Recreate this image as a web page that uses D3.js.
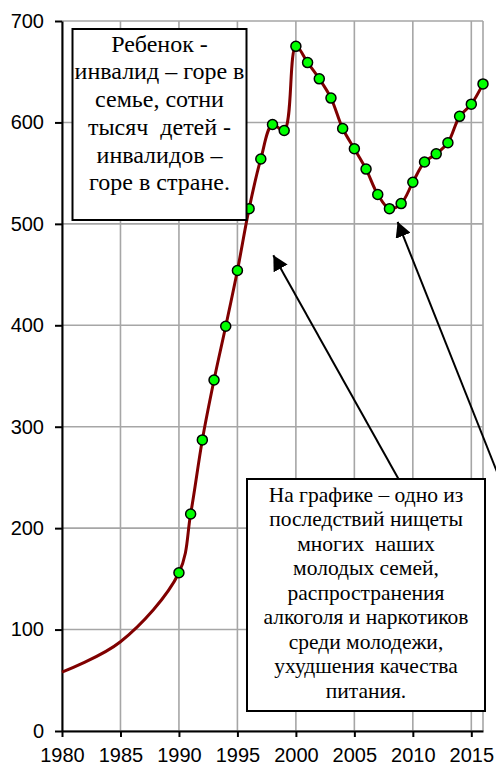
<!DOCTYPE html>
<html>
<head>
<meta charset="utf-8">
<script src="https://cdn.jsdelivr.net/npm/d3@7"></script>
<style>
  html, body { margin: 0; padding: 0; background: #fff; }
  svg { display: block; }
</style>
</head>
<body>
<div id="chart"></div>
<script>
// early years: smooth line, no markers
const trendYears = [1980, 1985];
const trendValues = [58, 88];

// yearly values with markers
const years = [1990, 1991, 1992, 1993, 1994, 1995, 1996, 1997, 1998, 1999,
  2000, 2001, 2002, 2003, 2004, 2005, 2006, 2007, 2008, 2009,
  2010, 2011, 2012, 2013, 2014, 2015, 2016];
const values = [156, 214, 287, 346, 399, 454, 515, 564, 598, 592,
  675, 659, 643, 624, 594, 574, 554, 529, 515, 520,
  541, 561, 569, 580, 606, 618, 638];

const xTicks = [1980, 1985, 1990, 1995, 2000, 2005, 2010, 2015];
const yTicks = [0, 100, 200, 300, 400, 500, 600, 700];

const noteLeft = ["Ребенок -", "инвалид – горе в", "семье, сотни", "тысяч\u00a0 детей -", "инвалидов –", "горе в стране."];
const noteRight = ["На графике – одно из", "последствий нищеты", "многих\u00a0 наших", "молодых семей,",
  "распространения", "алкоголя и наркотиков", "среди молодежи,", "ухудшения качества", "питания."];

// arrow tips (year, value) and tails
const arrowTips = [[1998.07, 469], [2008.7, 502]];
const arrowTails = [[2008.8, 248], [2017.8, 238]];

const W = 496, H = 765;
const margin = { top: 21, right: 13, bottom: 34, left: 62 };
const plotW = W - margin.left - margin.right;
const plotH = H - margin.top - margin.bottom;

const svg = d3.select("#chart").append("svg")
  .attr("width", W)
  .attr("height", H);

const x = d3.scaleLinear().domain([1980, 2016]).range([margin.left, margin.left + plotW]);
const y = d3.scaleLinear().domain([0, 700]).range([margin.top + plotH, margin.top]);

// grid
const grid = svg.append("g").attr("stroke", "#a6a6a6").attr("stroke-width", 1.6);
grid.selectAll(".vg").data(xTicks.concat([2016])).enter().append("line")
  .attr("x1", d => x(d)).attr("x2", d => x(d))
  .attr("y1", y(0)).attr("y2", y(700));
grid.selectAll(".hg").data(yTicks).enter().append("line")
  .attr("x1", x(1980)).attr("x2", x(2016))
  .attr("y1", d => y(d)).attr("y2", d => y(d));

// axes
const yAxis = svg.append("g")
  .attr("transform", `translate(${x(1980)},0)`)
  .call(d3.axisLeft(y).tickValues(yTicks).tickSize(7).tickPadding(11).tickSizeOuter(0));
const xAxis = svg.append("g")
  .attr("transform", `translate(0,${y(0)})`)
  .call(d3.axisBottom(x).tickValues(xTicks).tickFormat(d3.format("d")).tickSize(6).tickPadding(11).tickSizeOuter(0));

[yAxis, xAxis].forEach(a => {
  a.attr("font-family", '"Liberation Sans"').attr("font-size", 20);
  a.select(".domain").attr("stroke", "#000").attr("stroke-width", 2);
  a.selectAll(".tick line").attr("stroke", "#000").attr("stroke-width", 2);
  a.selectAll(".tick text").attr("fill", "#000");
});
xAxis.selectAll(".tick text").attr("dy", "0.71em");

// line
const allYears = trendYears.concat(years);
const allValues = trendValues.concat(values);
const pts = allYears.map((d, i) => [d, allValues[i]]);

const line = d3.line()
  .x(d => x(d[0]))
  .y(d => y(d[1]))
  .curve(d3.curveCatmullRom.alpha(0.5));

svg.append("path")
  .datum(pts)
  .attr("fill", "none")
  .attr("stroke", "#800000")
  .attr("stroke-width", 3)
  .attr("d", line);

svg.selectAll(".pt")
  .data(years.map((d, i) => [d, values[i]]))
  .enter().append("circle")
  .attr("class", "pt")
  .attr("cx", d => x(d[0]))
  .attr("cy", d => y(d[1]))
  .attr("r", 5)
  .attr("fill", "#00ff00")
  .attr("stroke", "#000")
  .attr("stroke-width", 1.5);

// arrows
svg.append("defs").append("marker")
  .attr("id", "head")
  .attr("viewBox", "0 0 15 16")
  .attr("refX", 15).attr("refY", 8)
  .attr("markerWidth", 15).attr("markerHeight", 16)
  .attr("markerUnits", "userSpaceOnUse")
  .attr("orient", "auto")
  .append("path")
  .attr("d", "M0,0 L15,8 L0,16 Z")
  .attr("fill", "#000");

svg.selectAll(".arrow")
  .data(arrowTips.map((t, i) => [arrowTails[i], t]))
  .enter().append("line")
  .attr("x1", d => x(d[0][0])).attr("y1", d => y(d[0][1]))
  .attr("x2", d => x(d[1][0])).attr("y2", d => y(d[1][1]))
  .attr("stroke", "#000")
  .attr("stroke-width", 2)
  .attr("marker-end", "url(#head)");

// text boxes
function note(lines, box, fontSize, lineH, firstBase) {
  const g = svg.append("g")
    .attr("font-family", '"Liberation Serif"')
    .attr("font-size", fontSize);
  g.append("rect")
    .attr("x", box[0]).attr("y", box[1])
    .attr("width", box[2]).attr("height", box[3])
    .attr("fill", "#fff")
    .attr("stroke", "#000")
    .attr("stroke-width", 2);
  g.selectAll("text").data(lines).enter().append("text")
    .attr("x", box[0] + box[2] / 2)
    .attr("y", (d, i) => firstBase + i * lineH)
    .attr("text-anchor", "middle")
    .attr("fill", "#000")
    .text(d => d);
}

note(noteLeft, [72.5, 29, 174, 191], 24, 27.7, 51.7);
note(noteRight, [247, 479, 238, 232], 21.5, 24.5, 501.7);
</script>
</body>
</html>
